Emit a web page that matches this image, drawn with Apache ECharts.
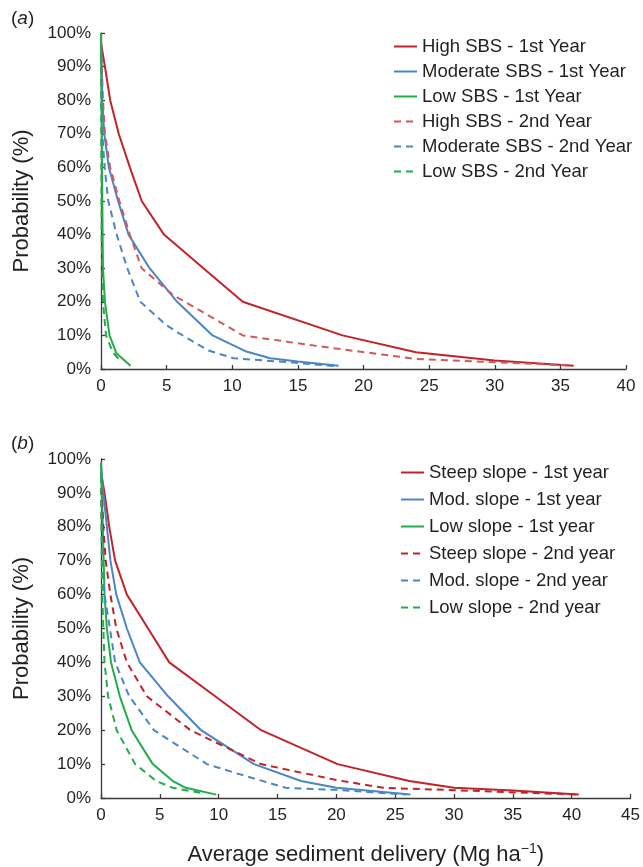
<!DOCTYPE html>
<html>
<head>
<meta charset="utf-8">
<script src="https://cdn.jsdelivr.net/npm/echarts@6/dist/echarts.min.js"></script>
<style>
  html, body { margin: 0; padding: 0; background: #fff; }
  #chart { width: 643px; height: 867px; }
</style>
</head>
<body>
<div id="chart"></div>
<script>
// Exceedance probability (%) vs. average sediment delivery (Mg/ha)

// Panel (a): burn severity classes
const highSbs1X = [0, 0.3, 0.7, 1.35, 2.2, 3.1, 4.8, 7.8, 10.8, 18.4, 24, 30, 36];
const highSbs1Y = [97, 90, 80, 70, 60, 50, 40, 30, 20, 10, 5, 2.5, 1];
const modSbs1X = [0, 0.1, 0.25, 0.6, 1.3, 2.1, 3.7, 5.8, 8.5, 11, 12.9, 15, 18.1];
const modSbs1Y = [98, 80, 70, 60, 50, 40, 30, 20, 10, 5.3, 3.2, 2.2, 1];
const lowSbs1X = [0, 0.1, 0.15, 0.3, 0.65, 1.17, 2.25];
const lowSbs1Y = [100, 50, 30, 20, 10, 4.7, 1];
const highSbs2X = [0, 0.15, 0.3, 0.7, 1.4, 2.2, 3.1, 5.5, 7.5, 10.8, 14.4, 17.5, 24, 30, 36];
const highSbs2Y = [97, 80, 70, 60, 50, 40, 30, 22, 17.5, 10, 8, 6.3, 3, 2, 1];
const modSbs2X = [0, 0.1, 0.28, 0.55, 1.2, 2.0, 3.0, 5.0, 6.0, 8.2, 10.1, 14.4, 18];
const modSbs2Y = [97, 70, 60, 50, 40, 30, 20, 13, 10.5, 5.5, 3.2, 2, 0.8];
const lowSbs2X = [0, 0.05, 0.15, 0.38, 0.9, 1.45];
const lowSbs2Y = [97, 40, 20, 10, 5, 2.5];

// Panel (b): hillslope classes
const steep1X = [0, 0.3, 0.7, 1.2, 2.2, 4.0, 5.8, 9.7, 13.6, 20.1, 26.2, 30, 35, 40.6];
const steep1Y = [96, 90, 80, 70, 60, 50, 40, 30, 20, 10, 5, 3, 2.2, 1];
const mod1X = [0, 0.2, 0.5, 0.8, 1.3, 2.2, 3.3, 5.7, 8.5, 13, 17, 20, 26.3];
const mod1Y = [98, 90, 80, 70, 60, 50, 40, 30, 20, 10, 5, 3, 1];
const low1X = [0, 0.15, 0.3, 0.5, 0.85, 1.6, 2.6, 4.4, 6.1, 7.2, 9.8];
const low1Y = [99, 80, 60, 50, 40, 30, 20, 10, 5, 3, 1];
const steep2X = [0, 0.2, 0.4, 0.8, 1.3, 2.2, 3.9, 7.6, 13.6, 20, 24, 30, 40.6];
const steep2Y = [95, 80, 70, 60, 50, 40, 30, 20, 10, 5.3, 3, 2.3, 1];
const mod2X = [0, 0.1, 0.3, 0.76, 1.2, 2.4, 4.5, 9, 11.4, 15.7, 20, 26];
const mod2Y = [95, 70, 60, 50, 40, 30, 20, 10, 7.4, 3, 2.4, 1];
const low2X = [0, 0.1, 0.3, 0.6, 1.33, 2.9, 4.7, 6.1, 8.5];
const low2Y = [95, 60, 40, 30, 20, 10, 5, 3, 1.5];

const namesA = ['High SBS - 1st Year', 'Moderate SBS - 1st Year', 'Low SBS - 1st Year',
                'High SBS - 2nd Year', 'Moderate SBS - 2nd Year', 'Low SBS - 2nd Year'];
const namesB = ['Steep slope - 1st year', 'Mod. slope - 1st year', 'Low slope - 1st year',
                'Steep slope - 2nd year', 'Mod. slope - 2nd year', 'Low slope - 2nd year'];

const RED = '#c4222b', RED_LIGHT = '#cf5a5c', BLUE = '#4a86c6', GREEN = '#22ad4a';
const TXT = '#231f20', AXIS = '#3a3a3a';
const FONT = 'Liberation Sans, Arial, Helvetica, sans-serif';

function pairs(xs, ys) { return xs.map((x, i) => [x, ys[i]]); }

function line(name, xs, ys, color, dashed, idx) {
  return {
    name, type: 'line', xAxisIndex: idx, yAxisIndex: idx,
    data: pairs(xs, ys), symbol: 'none', smooth: false,
    lineStyle: { color, width: 2, type: dashed ? [7, 5] : 'solid' },
    itemStyle: { color }, emphasis: { disabled: true }, animation: false
  };
}

function xAxis(idx, max, withName) {
  const ax = {
    type: 'value', gridIndex: idx, min: 0, max, interval: 5,
    axisLine: { show: true, lineStyle: { color: AXIS, width: 1.3 } },
    axisTick: { show: true, inside: true, length: 4, lineStyle: { color: AXIS, width: 1.3 } },
    axisLabel: { color: TXT, fontSize: 17, fontFamily: FONT, margin: 9 },
    splitLine: { show: false }
  };
  if (withName) {
    ax.name = '{t|Average sediment delivery (Mg ha}{s|\u22121}{t|)}';
    ax.nameLocation = 'middle';
    ax.nameGap = 44;
    ax.nameTextStyle = {
      rich: {
        t: { fontSize: 22, color: TXT, fontFamily: FONT },
        s: { fontSize: 14, color: TXT, fontFamily: FONT, verticalAlign: 'top', padding: [0, 0, 12, 0] }
      }
    };
  }
  return ax;
}

function yAxis(idx) {
  return {
    type: 'value', gridIndex: idx, min: 0, max: 100, interval: 10,
    name: 'Probability (%)', nameLocation: 'middle', nameRotate: 90, nameGap: 68,
    nameTextStyle: { color: TXT, fontSize: 22, fontFamily: FONT },
    axisLine: { show: true, lineStyle: { color: AXIS, width: 1.3 } },
    axisTick: { show: true, inside: true, length: 4, lineStyle: { color: AXIS, width: 1.3 } },
    axisLabel: { color: TXT, fontSize: 17, fontFamily: FONT, margin: 10, formatter: '{value}%' },
    splitLine: { show: false }
  };
}

function legend(names, left, top, gap) {
  return {
    data: names, orient: 'vertical', left, top,
    itemWidth: 23, itemHeight: 14, itemGap: gap,
    selectedMode: false,
    itemStyle: { opacity: 0 },
    textStyle: { color: TXT, fontSize: 18.5, fontFamily: FONT, lineHeight: 18 }
  };
}

function panelTitle(letter, top) {
  return {
    text: '{p|(}{i|' + letter + '}{p|)}', left: 6, top,
    textStyle: {
      rich: {
        p: { fontSize: 19, color: TXT, fontFamily: FONT, fontWeight: 'normal' },
        i: { fontSize: 19, color: TXT, fontFamily: FONT, fontStyle: 'italic', fontWeight: 'normal' }
      }
    }
  };
}

const chart = echarts.init(document.getElementById('chart'), null, { renderer: 'canvas' });
chart.setOption({
  backgroundColor: '#ffffff',
  animation: false,
  title: [panelTitle('a', 4), panelTitle('b', 429)],
  grid: [
    { left: 101, top: 33, width: 525, height: 336 },
    { left: 101, top: 459, width: 531, height: 339 }
  ],
  xAxis: [xAxis(0, 40, false), xAxis(1, 45, true)],
  yAxis: [yAxis(0), yAxis(1)],
  legend: [legend(namesA, 388, 32, 6), legend(namesB, 395, 458, 8)],
  series: [
    line(namesA[0], highSbs1X, highSbs1Y, RED, false, 0),
    line(namesA[1], modSbs1X, modSbs1Y, BLUE, false, 0),
    line(namesA[2], lowSbs1X, lowSbs1Y, GREEN, false, 0),
    line(namesA[3], highSbs2X, highSbs2Y, RED_LIGHT, true, 0),
    line(namesA[4], modSbs2X, modSbs2Y, BLUE, true, 0),
    line(namesA[5], lowSbs2X, lowSbs2Y, GREEN, true, 0),
    line(namesB[0], steep1X, steep1Y, RED, false, 1),
    line(namesB[1], mod1X, mod1Y, BLUE, false, 1),
    line(namesB[2], low1X, low1Y, GREEN, false, 1),
    line(namesB[3], steep2X, steep2Y, RED, true, 1),
    line(namesB[4], mod2X, mod2Y, BLUE, true, 1),
    line(namesB[5], low2X, low2Y, GREEN, true, 1)
  ]
});
</script>
</body>
</html>
